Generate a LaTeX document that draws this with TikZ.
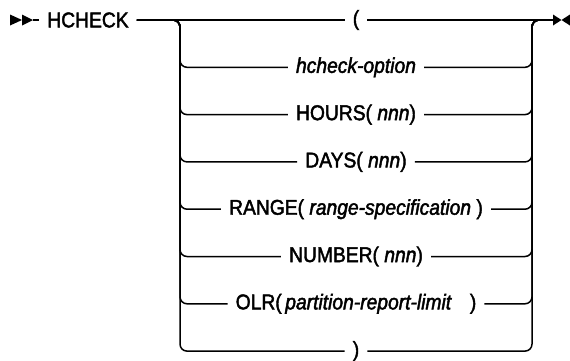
\documentclass[tikz,border=0pt]{standalone}
\usepackage{fontspec}
\setmainfont{Liberation Sans}[FakeStretch=0.9,FakeBold=2]
\usetikzlibrary{positioning,calc}
\tikzset{
  railtext/.style={inner xsep=8pt,inner ysep=2pt,anchor=center,font=\fontsize{21.4}{25}\selectfont},
  railline/.style={line width=1.5pt,draw=black},
  railbranch/.style={railline,rounded corners=7pt},
  railmark/.style={fill=black}
}
\begin{document}
\begin{tikzpicture}[x=1pt,y=-1pt]
  \useasboundingbox (0,0) rectangle (570,360);
  % keyword and the two rails of the choice
  \coordinate (in) at (33,20);
  \node[railtext] (kw) at (88,20) {HCHECK};
  \coordinate (fork) at (180,20);
  \coordinate (join) at (532,20);
  \coordinate (exit) at (553,20);
  % one option per row
  \node[railtext] (opt0) at (356,20) {(};
  \node[railtext] (opt1) at (356,67.3) {\textit{hcheck-option}};
  \node[railtext] (opt2) at (356,114.6) {HOURS( \textit{nnn})};
  \node[railtext] (opt3) at (356,161.9) {DAYS( \textit{nnn})};
  \node[railtext] (opt4) at (356,209.2) {RANGE( \textit{range-specification} )};
  \node[railtext] (opt5) at (356,256.5) {NUMBER( \textit{nnn})};
  \node[railtext] (opt6) at (356,303.8) {OLR(\,\textit{partition-report-limit}\hspace{18pt})};
  \node[railtext] (opt7) at (356,351.1) {)};
  % start and end markers
  \fill[railmark] (10,14.5) -- (22,20) -- (10,25.5) -- cycle;
  \fill[railmark] (22,14.5) -- (33,20) -- (22,25.5) -- cycle;
  \fill[railmark] (exit) ++(0,-5.5) -- (561.5,20) -- (553,25.5) -- cycle;
  \fill[railmark] (570,14.5) -- (561.5,20) -- (570,25.5) -- cycle;
  % main line
  \draw[railline] (in) -- (kw);
  \draw[railline] (kw) -- (opt0);
  \draw[railline] (opt0) -- (exit);
  % branches
  \foreach \k in {1,...,7} {
    \draw[railbranch] (kw.east) -| (opt\k.west -| fork) -- (opt\k.west);
    \draw[railbranch] (opt\k.east) -| (join) -- (exit);
  }
\end{tikzpicture}
\end{document}
